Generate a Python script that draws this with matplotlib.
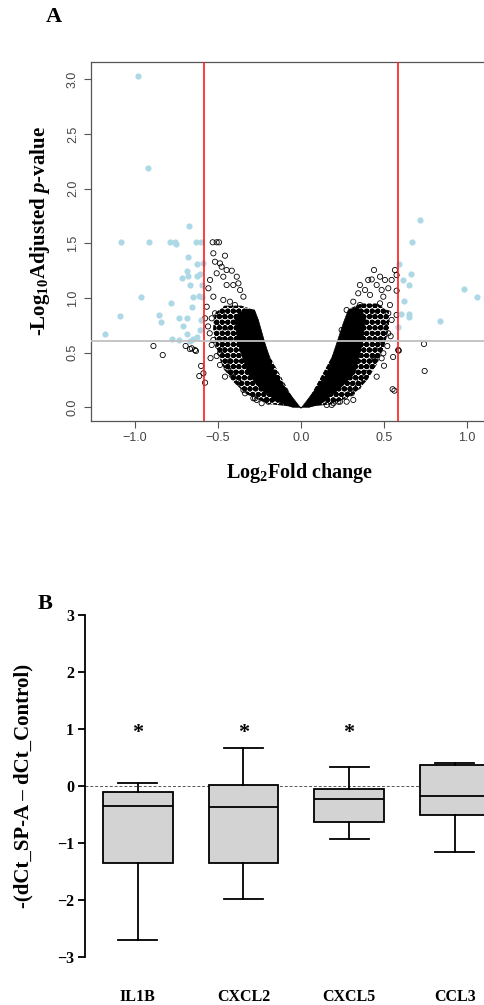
"""Volcano plot (A) and qPCR box plot (B)."""

import matplotlib
matplotlib.use("Agg")
import matplotlib.pyplot as plt
from matplotlib.patches import Polygon

plt.rcParams["mathtext.fontset"] = "custom"
plt.rcParams["mathtext.rm"] = "Liberation Serif:bold"
plt.rcParams["mathtext.it"] = "Liberation Serif:italic:bold"
plt.rcParams["mathtext.bf"] = "Liberation Serif:bold"
plt.rcParams["hatch.linewidth"] = 0.9

SERIF = "Liberation Serif"
SANS = "Liberation Sans"

# ---------------- panel A data ----------------
FC_CUT = 0.585          # log2(1.5)
P_CUT = 0.602           # -log10(0.25)

blue_x = [-0.984, -0.920, -0.673, -1.084, -0.914, -0.789, -0.759, -0.755, -0.633,
          -0.602, -0.683, -0.628, -0.588, -0.689, -0.719, -0.679, -0.628, -0.608,
          -0.669, -0.598, -0.964, -0.649, -0.613, -0.598, -0.785, -0.657, -1.089,
          -0.855, -0.845, -0.733, -0.689, -0.709, -0.602, -0.608, -0.685, -1.181,
          -0.628, -0.649, -0.669, -0.779, -0.733,
          0.717, 0.671, 0.592, 0.661, 0.612, 0.649, 0.984, 1.058, 0.622, 0.602,
          0.651, 0.652, 0.837, 0.586]
blue_y = [3.034, 2.190, 1.659, 1.510, 1.510, 1.510, 1.510, 1.490, 1.510,
          1.510, 1.378, 1.308, 1.317, 1.247, 1.180, 1.200, 1.200, 1.220,
          1.119, 1.119, 1.012, 1.012, 1.018, 1.012, 0.951, 0.920, 0.835,
          0.841, 0.783, 0.820, 0.814, 0.744, 0.799, 0.707, 0.671, 0.668,
          0.646, 0.622, 0.609, 0.625, 0.616,
          1.714, 1.510, 1.308, 1.220, 1.165, 1.119, 1.082, 1.006, 0.976, 0.851,
          0.854, 0.823, 0.790, 0.737]

grey_x = [-0.532, -0.508, -0.494, -0.528, -0.458, -0.518, -0.488, -0.478, -0.508,
          -0.448, -0.417, -0.548, -0.468, -0.387, -0.377, -0.558, -0.448, -0.408,
          -0.367, -0.347, -0.528, -0.468, -0.428, -0.398, -0.568, -0.518, -0.478,
          -0.538, -0.578, -0.550, -0.528, -0.472, -0.538, -0.488, -0.508, -0.488,
          -0.448, -0.417, -0.458, -0.613, -0.588, -0.578, -0.639, -0.658, -0.367,
          -0.347, -0.337, -0.287, -0.267, -0.207, -0.889, -0.833, -0.695, -0.669,
          -0.633, -0.602, -0.438, -0.408, -0.377, -0.277, -0.237, -0.197, -0.560,
          -0.545, -0.505, -0.455, -0.430, -0.500, -0.470,
          0.440, 0.405, 0.426, 0.476, 0.506, 0.546, 0.566, 0.576, 0.355, 0.386,
          0.456, 0.486, 0.526, 0.345, 0.416, 0.496, 0.576, 0.315, 0.355, 0.476,
          0.536, 0.275, 0.295, 0.436, 0.526, 0.546, 0.576, 0.245, 0.506, 0.526,
          0.486, 0.496, 0.436, 0.486, 0.426, 0.456, 0.396, 0.355, 0.315, 0.295,
          0.315, 0.275, 0.235, 0.195, 0.155, 0.741, 0.589, 0.745, 0.552, 0.563,
          0.586, 0.375, 0.345, 0.305, 0.265, 0.225, 0.185, 0.446, 0.520, 0.555,
          0.540, 0.500, 0.470]
grey_y = [1.510, 1.510, 1.510, 1.409, 1.387, 1.332, 1.317, 1.286, 1.226,
          1.256, 1.250, 1.165, 1.195, 1.195, 1.134, 1.089, 1.119, 1.119,
          1.073, 1.012, 1.012, 0.982, 0.966, 0.936, 0.920, 0.860, 0.860,
          0.814, 0.814, 0.677, 0.616, 0.616, 0.570, 0.494, 0.469, 0.387,
          0.357, 0.311, 0.280, 0.286, 0.311, 0.225, 0.524, 0.540, 0.220,
          0.158, 0.128, 0.082, 0.067, 0.067, 0.561, 0.478, 0.561, 0.533,
          0.515, 0.378, 0.341, 0.280, 0.234, 0.082, 0.037, 0.051, 0.740,
          0.450, 0.740, 0.700, 0.420, 0.560, 0.520,
          1.256, 1.165, 1.170, 1.195, 1.165, 1.165, 1.256, 1.210, 1.119, 1.073,
          1.119, 1.073, 1.089, 1.043, 1.028, 1.012, 1.067, 0.966, 0.936, 0.951,
          0.936, 0.890, 0.829, 0.860, 0.860, 0.799, 0.845, 0.707, 0.737, 0.677,
          0.616, 0.494, 0.463, 0.448, 0.403, 0.280, 0.311, 0.250, 0.189, 0.128,
          0.067, 0.051, 0.051, 0.037, 0.021, 0.579, 0.518, 0.332, 0.165, 0.152,
          0.524, 0.265, 0.189, 0.128, 0.097, 0.051, 0.021, 0.433, 0.560, 0.460,
          0.650, 0.380, 0.560]

# outline of the dense, overplotted region (circles merge into a texture)
cloud_left_x = [-0.02, -0.20, -0.33, -0.42, -0.48, -0.51, -0.53, -0.52, -0.46, -0.36, -0.28, -0.20]
cloud_left_y = [0.00, 0.03, 0.12, 0.25, 0.40, 0.55, 0.72, 0.86, 0.93, 0.93, 0.89, 0.50]
cloud_right_x = [0.02, 0.20, 0.32, 0.40, 0.46, 0.50, 0.53, 0.53, 0.46, 0.36, 0.29, 0.20]
cloud_right_y = [0.00, 0.03, 0.12, 0.25, 0.40, 0.55, 0.72, 0.88, 0.95, 0.95, 0.90, 0.50]
# fully black core of the V
core_x = [0.0, -0.086, -0.157, -0.217, -0.257, -0.28, -0.33, -0.40, -0.38, -0.32, -0.24,
          -0.12, -0.05, 0.05, 0.125, 0.225, 0.325, 0.37, 0.39, 0.34, 0.285, 0.255,
          0.215, 0.155, 0.084]
core_y = [-0.01, 0.158, 0.311, 0.585, 0.80, 0.89, 0.90, 0.83, 0.585, 0.311, 0.158,
          0.037, 0.0, 0.0, 0.037, 0.158, 0.311, 0.585, 0.83, 0.92, 0.89, 0.77,
          0.585, 0.311, 0.158]

# ---------------- panel B data ----------------
genes = ["IL1B", "CXCL2", "CXCL5", "CCL3"]
q1 = [-1.345, -1.345, -0.64, -0.515]
med = [-0.345, -0.37, -0.23, -0.175]
q3 = [-0.10, 0.023, -0.053, 0.37]
whis_lo = [-2.70, -1.98, -0.93, -1.16]
whis_hi = [0.047, 0.66, 0.33, 0.41]
signif = [True, True, True, False]

fig = plt.figure(figsize=(4.84, 10.05), dpi=100)

# ================= panel A =================
axA = fig.add_axes([0.1874, 0.5814, 0.870, 0.3569])
for xs, ys in [(cloud_left_x, cloud_left_y), (cloud_right_x, cloud_right_y)]:
    axA.add_patch(Polygon(list(zip(xs, ys)), closed=True, facecolor="white",
                          edgecolor="black", hatch="OOOooo", linewidth=0, zorder=2))
axA.add_patch(Polygon(list(zip(core_x, core_y)), closed=True, facecolor="black",
                      edgecolor="black", linewidth=0.5, zorder=3))
axA.scatter(grey_x, grey_y, s=14, facecolors="none", edgecolors="black",
            linewidths=0.6, zorder=4)
axA.scatter(blue_x, blue_y, s=20, color="#add8e6", linewidths=0, zorder=5)
axA.axvline(-FC_CUT, color="#ff1a1a", lw=1.2, zorder=6)
axA.axvline(FC_CUT, color="#ff1a1a", lw=1.2, zorder=6)
axA.axhline(P_CUT, color="#c0c0c0", lw=1.3, zorder=6)

axA.set_xlim(-1.267, 1.27)
axA.set_ylim(-0.123, 3.16)
axA.set_xticks([-1.0, -0.5, 0.0, 0.5, 1.0])
axA.set_yticks([0.0, 0.5, 1.0, 1.5, 2.0, 2.5, 3.0])
axA.tick_params(colors="#555555", labelcolor="#444444", labelsize=9,
                length=5, width=0.8, direction="out")
for lab in axA.get_xticklabels() + axA.get_yticklabels():
    lab.set_family(SANS)
for lab in axA.get_yticklabels():
    lab.set_rotation(90)
    lab.set_va("center")
for sp in axA.spines.values():
    sp.set_color("#555555")
    sp.set_linewidth(0.9)
axA.set_xlabel("Log$_{2}$Fold change", family=SERIF, fontweight="bold", fontsize=14.5)
axA.xaxis.set_label_coords(0.495, -0.113)
axA.set_ylabel("-Log$_{10}$Adjusted $p$-value", family=SERIF, fontweight="bold",
               fontsize=15)
axA.yaxis.set_label_coords(-0.093, 0.529)
fig.text(54 / 484, 1 - 17 / 1005, "A", family=SERIF, fontweight="bold",
         fontsize=16, ha="center", va="center")

# ================= panel B =================
axB = fig.add_axes([0.1756, 0.04776, 0.895, 0.3403])
stats = [dict(med=m, q1=a, q3=b, whislo=lo, whishi=hi, fliers=[], label=g)
         for g, a, m, b, lo, hi in zip(genes, q1, med, q3, whis_lo, whis_hi)]
axB.bxp(stats, positions=range(1, len(genes) + 1), widths=0.66, patch_artist=True,
        showfliers=False,
        boxprops=dict(facecolor="#d3d3d3", edgecolor="black", linewidth=1.3),
        medianprops=dict(color="black", linewidth=1.3),
        whiskerprops=dict(color="black", linewidth=1.3),
        capprops=dict(color="black", linewidth=1.3), capwidths=0.37)
axB.axhline(0, color="#555555", lw=0.7, ls=(0, (3, 2)), zorder=0)
for i, s in enumerate(signif):
    if s:
        axB.text(i + 1, 0.93, "*", family=SERIF, fontweight="bold", fontsize=16,
                 ha="center", va="center")
axB.set_xlim(0.5, 4.6)
axB.set_ylim(-3, 3)
axB.set_yticks(range(-3, 4))
axB.set_xticks(range(1, len(genes) + 1))
axB.set_xticklabels(genes)
axB.tick_params(axis="x", length=0, pad=23)
axB.tick_params(axis="y", length=5, width=1.3, pad=3)
for lab in axB.get_xticklabels() + axB.get_yticklabels():
    lab.set_family(SERIF)
    lab.set_fontweight("bold")
    lab.set_fontsize(11.5)
for sp in ("top", "right", "bottom"):
    axB.spines[sp].set_visible(False)
axB.spines["left"].set_linewidth(1.3)
axB.set_ylabel("-(dCt_SP-A \u2013 dCt_Control)", family=SERIF, fontweight="bold",
               fontsize=15)
axB.yaxis.set_label_coords(-0.118, 0.5)
fig.text(45 / 484, 1 - 604 / 1005, "B", family=SERIF, fontweight="bold",
         fontsize=16, ha="center", va="center")

fig.savefig("out.png", dpi=100)
